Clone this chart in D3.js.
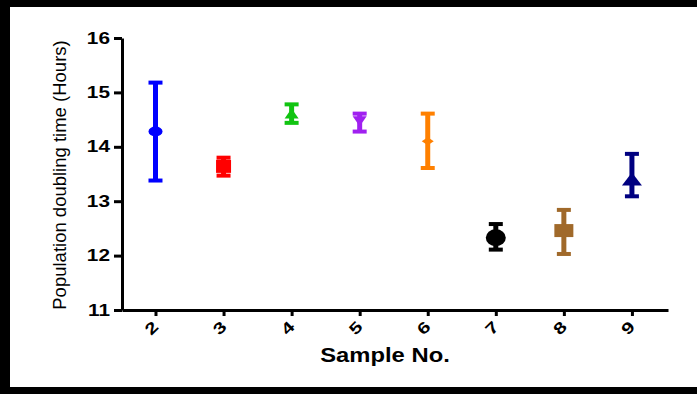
<!DOCTYPE html>
<html>
<head>
<meta charset="utf-8">
<script src="https://cdn.jsdelivr.net/npm/d3@7"></script>
<style>
  body { margin: 0; background: #fff; }
  svg { display: block; }
  text { font-family: "Liberation Sans", Arial, sans-serif; fill: #000; }
</style>
</head>
<body>
<div id="chart"></div>
<script>
// data
const samples = [2, 3, 4, 5, 6, 7, 8, 9];
const means = [14.28, 13.64, 14.61, 14.47, 14.10, 12.33, 12.46, 13.41];
const upper = [15.18, 13.80, 14.78, 14.61, 14.61, 12.58, 12.84, 13.87];
const lower = [13.38, 13.47, 14.44, 14.28, 13.61, 12.11, 12.03, 13.09];
const yTicks = [11, 12, 13, 14, 15, 16];

// styles per series
const colors = ["#0000ff", "#ff0000", "#11c411", "#a020f0", "#ff8000", "#000000", "#a0692a", "#000080"];
const shapes = ["circle", "square", "triangle", "triangleDown", "diamond", "circle", "square", "triangle"];
const markW = [14, 15, 14, 14, 12, 20, 19, 20];
const markH = [10, 13, 10, 10, 8, 17, 13, 13];

const W = 697, H = 394;

const svg = d3.select("#chart").append("svg")
  .attr("width", W)
  .attr("height", H);

// frame (no right edge visible)
svg.append("rect")
  .attr("x", 5).attr("y", 3.5)
  .attr("width", W + 20).attr("height", H - 7)
  .attr("fill", "none")
  .attr("stroke", "#000")
  .attr("stroke-width", 10);
svg.append("rect")
  .attr("x", 10).attr("y", 7)
  .attr("width", W).attr("height", 380)
  .attr("fill", "#fff");

const x = d3.scaleLinear().domain([1.508, 9.53]).range([122, 668]);
const y = d3.scaleLinear().domain([11, 16]).range([310, 38]);

// axes
const yAxis = svg.append("g")
  .attr("transform", "translate(122,0)")
  .call(d3.axisLeft(y).tickValues(yTicks).tickFormat(d3.format("d"))
    .tickSize(8).tickSizeOuter(0).tickPadding(4));
const xAxis = svg.append("g")
  .attr("transform", "translate(0,310)")
  .call(d3.axisBottom(x).tickValues(samples).tickSize(6).tickFormat("").tickSizeOuter(0));

[yAxis, xAxis].forEach(function (g) {
  g.select(".domain").attr("stroke", "#000").attr("stroke-width", 3);
  g.selectAll(".tick line").attr("stroke", "#000").attr("stroke-width", 3);
});

// wide bold tick labels, like the reference
yAxis.selectAll(".tick text")
  .attr("font-size", 16)
  .attr("font-weight", "bold")
  .style("font-family", "'Liberation Sans', Arial, sans-serif")
  .attr("text-anchor", "end")
  .attr("x", null)
  .attr("transform", "translate(-12,0) scale(1.3,1)");

// rotated sample labels
svg.append("g").selectAll("text")
  .data(samples)
  .join("text")
  .attr("transform", function (d) { return "translate(" + (x(d) - 4) + ",328) rotate(-45) scale(1.3,1)"; })
  .attr("text-anchor", "middle")
  .attr("dy", "0.35em")
  .attr("font-size", 16)
  .attr("font-weight", "bold")
  .text(function (d) { return d; });

// axis titles
svg.append("text")
  .attr("transform", "translate(66,175) rotate(-90)")
  .attr("text-anchor", "middle")
  .attr("font-size", 18.5)
  .text("Population doubling time (Hours)");

svg.append("text")
  .attr("transform", "translate(385,362) scale(1.22,1)")
  .attr("text-anchor", "middle")
  .attr("font-size", 19.5)
  .attr("font-weight", "bold")
  .text("Sample No.");

// error bars
const bars = svg.append("g").selectAll("g")
  .data(samples)
  .join("g")
  .attr("stroke", function (d, i) { return colors[i]; });

bars.append("line")
  .attr("x1", function (d) { return x(d); })
  .attr("x2", function (d) { return x(d); })
  .attr("y1", function (d, i) { return y(upper[i]); })
  .attr("y2", function (d, i) { return y(lower[i]); })
  .attr("stroke-width", 5);

[upper, lower].forEach(function (arr) {
  bars.append("line")
    .attr("x1", function (d) { return x(d) - 7; })
    .attr("x2", function (d) { return x(d) + 7; })
    .attr("y1", function (d, i) { return y(arr[i]); })
    .attr("y2", function (d, i) { return y(arr[i]); })
    .attr("stroke-width", 4);
});

// markers
function markerPath(shape, w, h) {
  const a = w / 2, b = h / 2;
  if (shape === "square") return "M" + (-a) + "," + (-b) + "H" + a + "V" + b + "H" + (-a) + "Z";
  if (shape === "triangle") return "M0," + (-b) + "L" + a + "," + b + "L" + (-a) + "," + b + "Z";
  if (shape === "triangleDown") return "M0," + b + "L" + a + "," + (-b) + "L" + (-a) + "," + (-b) + "Z";
  if (shape === "diamond") return "M0," + (-b) + "L" + a + ",0L0," + b + "L" + (-a) + ",0Z";
  return "M" + (-a) + ",0A" + a + "," + b + " 0 1,0 " + a + ",0A" + a + "," + b + " 0 1,0 " + (-a) + ",0Z";
}

svg.append("g").selectAll("path")
  .data(samples)
  .join("path")
  .attr("transform", function (d, i) { return "translate(" + x(d) + "," + y(means[i]) + ")"; })
  .attr("d", function (d, i) { return markerPath(shapes[i], markW[i], markH[i]); })
  .attr("fill", function (d, i) { return colors[i]; });
</script>
</body>
</html>
